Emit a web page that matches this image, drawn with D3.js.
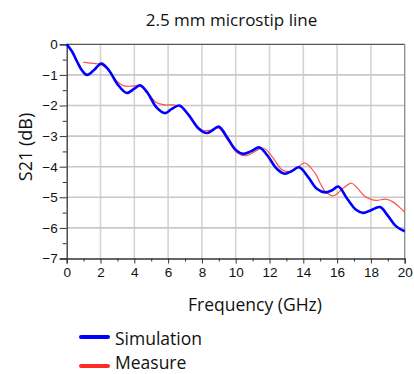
<!DOCTYPE html>
<html><head><meta charset="utf-8">
<script src="https://cdn.jsdelivr.net/npm/d3@7"></script>
<style>body{margin:0;background:#fff;}svg{display:block;font-family:"Open Sans","DejaVu Sans",sans-serif;}</style>
</head><body><svg id="c" width="414" height="374"></svg>
<script>
const title = "2.5 mm microstip line";
const xLabel = "Frequency (GHz)";
const yLabel = "S21 (dB)";
const xTicks = [0,2,4,6,8,10,12,14,16,18,20];
const yTicks = [0,-1,-2,-3,-4,-5,-6,-7];
const seriesNames = ["Simulation","Measure"];
const simFreq = [0,0.3,0.6,0.9,1.2,1.6,2.05,2.5,3.0,3.55,4.0,4.34,4.8,5.3,5.82,6.2,6.66,7.2,7.8,8.28,8.6,9.0,9.5,10.0,10.45,10.9,11.4,11.9,12.4,12.9,13.3,13.75,14.3,14.8,15.3,15.7,16.07,16.6,17.1,17.55,18.0,18.54,19.0,19.5,20.0];
const simS21 = [0,-0.22,-0.55,-0.85,-1.0,-0.85,-0.63,-0.85,-1.3,-1.59,-1.45,-1.34,-1.6,-2.05,-2.25,-2.12,-2.0,-2.3,-2.75,-2.9,-2.82,-2.69,-3.05,-3.45,-3.58,-3.5,-3.37,-3.65,-4.05,-4.23,-4.15,-4.02,-4.35,-4.72,-4.84,-4.77,-4.65,-5.05,-5.4,-5.51,-5.42,-5.32,-5.6,-5.95,-6.11];
const measFreq = [0.98,1.3,1.7,2.1,2.5,3.0,3.4,3.8,4.3,4.8,5.3,5.8,6.3,6.7,7.2,7.7,8.1,8.5,9.0,9.5,10.1,10.65,11.1,11.63,12.2,12.7,13.2,13.7,14.1,14.7,15.0,15.3,15.78,16.37,16.86,17.2,17.6,18.0,18.34,18.9,19.3,19.7,20.0];
const measS21 = [-0.58,-0.61,-0.63,-0.68,-0.85,-1.22,-1.36,-1.37,-1.36,-1.6,-1.9,-1.98,-1.98,-2.02,-2.3,-2.68,-2.82,-2.8,-2.74,-3.1,-3.55,-3.64,-3.52,-3.39,-3.7,-4.08,-4.16,-4.0,-3.88,-4.21,-4.54,-4.81,-4.95,-4.7,-4.54,-4.7,-4.95,-5.07,-5.1,-5.06,-5.15,-5.33,-5.48];

const svg = d3.select("#c");
const L = 66.7, R = 404.7, T = 44.3, B = 258.5;
const x = d3.scaleLinear().domain([0,20]).range([L,R]);
const y = d3.scaleLinear().domain([-7,0]).range([B,T]);

// grid
const g = svg.append("g");
g.selectAll(".vg").data(xTicks.slice(1,-1)).join("line")
 .attr("x1",d=>x(d)).attr("x2",d=>x(d)).attr("y1",T).attr("y2",B)
 .attr("stroke","#d4d4d4").attr("stroke-width",1.6);
g.selectAll(".hg").data(yTicks.slice(1,-1)).join("line")
 .attr("y1",d=>y(d)).attr("y2",d=>y(d)).attr("x1",L).attr("x2",R)
 .attr("stroke","#c8c8c8").attr("stroke-width",1.6);
// frame top/right
svg.append("line").attr("x1",L).attr("x2",R).attr("y1",T).attr("y2",T).attr("stroke","#555").attr("stroke-width",1.3);
svg.append("line").attr("x1",R).attr("x2",R).attr("y1",T).attr("y2",B).attr("stroke","#8a8a8a").attr("stroke-width",1.3);

// axes
const xAxis = d3.axisBottom(x).tickValues(xTicks).tickSize(5).tickPadding(4).tickFormat(d3.format("d"));
svg.append("g").attr("transform",`translate(0,${B})`).call(xAxis);
const xMinor = d3.axisBottom(x).tickValues(d3.range(1,20,2)).tickSize(3).tickFormat("");
svg.append("g").attr("transform",`translate(0,${B})`).call(xMinor).select(".domain").remove();
const yAxis = d3.axisLeft(y).tickValues(yTicks).tickSize(7).tickPadding(2).tickFormat(d3.format("d"));
svg.append("g").attr("transform",`translate(${L},0)`).call(yAxis);
const yMinor = d3.axisLeft(y).tickValues(d3.range(-6.5,0,1)).tickSize(4).tickFormat("");
svg.append("g").attr("transform",`translate(${L},0)`).call(yMinor).select(".domain").remove();
svg.selectAll(".domain").attr("stroke","#333").attr("stroke-width",1.3);
svg.selectAll(".tick line").attr("stroke","#333");
svg.selectAll(".tick text").attr("font-family","'Liberation Sans',Arial,sans-serif").attr("font-size",13.5).attr("fill","#111");

// lines
const line = d3.line().x(d=>x(d[0])).y(d=>y(d[1])).curve(d3.curveCatmullRom.alpha(0.5));
const measData = measFreq.map((f,i)=>[f,measS21[i]]);
const simData = simFreq.map((f,i)=>[f,simS21[i]]);
svg.append("path").datum(measData).attr("d",line).attr("fill","none").attr("stroke","#ff3b3b").attr("stroke-width",1.2).attr("stroke-opacity",0.9);
svg.append("path").datum(simData).attr("d",line).attr("fill","none").attr("stroke","#0000ff").attr("stroke-width",2.6);

// titles
svg.append("text").attr("x",231.5).attr("y",26).attr("text-anchor","middle").attr("font-size",17).attr("fill","#111").text(title);
svg.append("text").attr("x",255).attr("y",311).attr("text-anchor","middle").attr("font-size",17.5).attr("fill","#111").text(xLabel);
svg.append("text").attr("transform","translate(32,147) rotate(-90)").attr("text-anchor","middle").attr("font-size",18).attr("fill","#111").text(yLabel);

// legend
const legColors = ["#0000ff","#ff2b2b"];
const lg = svg.append("g");
const legY = [337, 366];
const legBase = [345, 369];
seriesNames.forEach((n,i)=>{
  lg.append("line").attr("x1",81).attr("x2",108).attr("y1",legY[i]).attr("y2",legY[i]).attr("stroke",legColors[i]).attr("stroke-width",4).attr("stroke-linecap","round");
  lg.append("text").attr("x",115).attr("y",legBase[i]).attr("font-size",17.5).attr("fill","#111").text(n);
});
</script></body></html>
